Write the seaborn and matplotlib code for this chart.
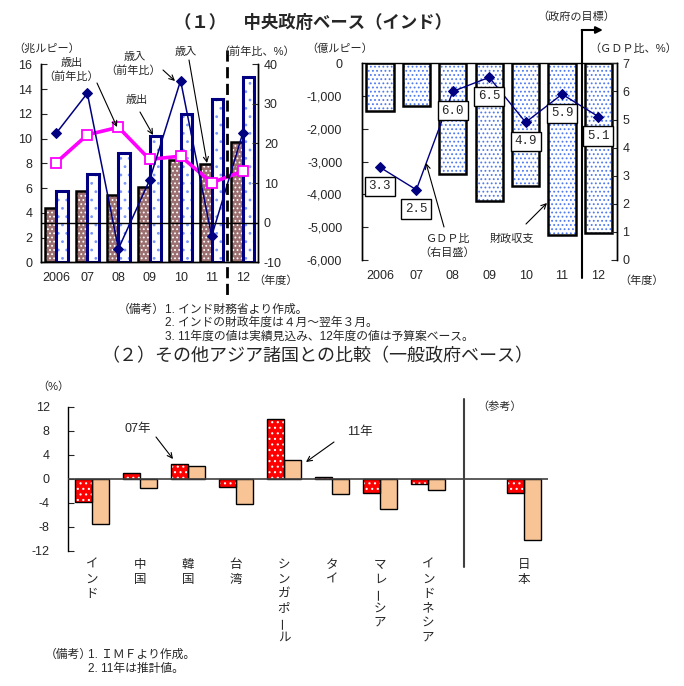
import numpy as np
import pandas as pd
import seaborn as sns
import matplotlib.pyplot as plt
from matplotlib.patches import Rectangle
from matplotlib.ticker import FuncFormatter
from matplotlib.transforms import blended_transform_factory

sns.set_style('ticks')
plt.rcParams['font.family'] = ['Liberation Sans', 'Noto Sans CJK JP', 'DejaVu Sans']
plt.rcParams['axes.unicode_minus'] = False
plt.rcParams['hatch.linewidth'] = 0.8

W, H = 684, 686

# (1) central government, India
years = ['2006', '07', '08', '09', '10', '11', '12']
revenue = [4.35, 5.8, 5.45, 6.05, 8.25, 7.95, 9.75]          # 歳入 (兆ルピー)
expenditure = [5.8, 7.1, 8.8, 10.2, 11.95, 13.2, 14.95]      # 歳出 (兆ルピー)
revenue_yoy = [22.6, 32.7, -6.6, 10.7, 35.9, -3.4, 22.6]     # 歳入 前年比 (%)
expenditure_yoy = [15.2, 22.2, 24.1, 16.0, 16.8, 10.1, 13.0] # 歳出 前年比 (%)
balance = [-1440, -1300, -3380, -4210, -3740, -5250, -5170]  # 財政収支 (億ルピー)
balance_gdp = [3.3, 2.5, 6.0, 6.5, 4.9, 5.9, 5.1]            # GDP比 (%)

# (2) other Asian economies, general government balance (% of GDP)
countries = ['インド', '中国', '韓国', '台湾', 'シンガポール', 'タイ', 'マレーシア', 'インドネシア', '日本']
bal_07 = [-3.9, 1.0, 2.4, -1.3, 10.0, 0.3, -2.4, -0.8, -2.3]
bal_11 = [-7.6, -1.5, 2.1, -4.2, 3.2, -2.5, -5.1, -1.8, -10.2]

fig = plt.figure(figsize=(W / 100, H / 100), dpi=100)


def fxy(x, y):
    # pixel position (from top-left) -> figure fraction
    return x / W, 1 - y / H


def axes_px(left, top, right, bottom):
    return fig.add_axes([left / W, 1 - bottom / H, (right - left) / W, (bottom - top) / H])


def hatch_bars(ax, bars, face, dots, dot_color, edge, lw):
    # hatch colour follows edge colour, so draw the outline as a separate frame
    for p in bars:
        p.set_facecolor(face)
        p.set_edgecolor(dot_color)
        p.set_hatch(dots)
        p.set_linewidth(0)
        ax.add_patch(Rectangle(p.get_xy(), p.get_width(), p.get_height(), fill=False,
                               edgecolor=edge, linewidth=lw, zorder=p.get_zorder() + 0.1))


def arrow(x0, y0, x1, y1):
    fig.add_artist(plt.Annotation('', xy=fxy(x1, y1), xytext=fxy(x0, y0),
                                  xycoords='figure fraction', textcoords='figure fraction',
                                  arrowprops=dict(arrowstyle='->', lw=0.8, color='black',
                                                  shrinkA=0, shrinkB=0, mutation_scale=9)))


def note(x, y, s, size=8, **kw):
    fig.text(*fxy(x, y), s, fontsize=size, va='center', **kw)


x = np.arange(len(years))

# ---------- (1) left: revenue / expenditure ----------
ax1 = axes_px(40.7, 64.3, 258.3, 262.3)
df1 = pd.DataFrame({'year': years * 2,
                    'kind': ['歳入'] * len(years) + ['歳出'] * len(years),
                    'value': revenue + expenditure})
sns.barplot(data=df1, x='year', y='value', hue='kind', hue_order=['歳入', '歳出'],
            palette=['#9c7070', 'white'], saturation=1, width=0.74, legend=False, ax=ax1)
hatch_bars(ax1, ax1.containers[0], '#9c7070', '....', 'white', 'black', 1.8)
hatch_bars(ax1, ax1.containers[1], 'white', '..', '#7b96ff', '#000080', 2.2)
ax1.set_xlim(-0.5, 6.5)
ax1.set_ylim(0, 16)
ax1.set_yticks(range(0, 17, 2))
ax1.set_xlabel('')
ax1.set_ylabel('')
ax1.tick_params(axis='y', direction='in', length=4, labelsize=9, pad=6)
ax1.tick_params(axis='x', length=0, labelsize=9, pad=7)

ax1r = ax1.twinx()
ax1r.axhline(0, color='black', lw=1, zorder=1)
sns.lineplot(x=x, y=expenditure_yoy, ax=ax1r, color='#ff00ff', lw=2.6, marker='s',
             markersize=6.5, markerfacecolor='white', markeredgecolor='#ff00ff', markeredgewidth=1.3)
sns.lineplot(x=x, y=revenue_yoy, ax=ax1r, color='#000080', lw=1.1, marker='D',
             markersize=4.8, markeredgecolor='#000080')
ax1r.set_ylim(-10, 40)
ax1r.set_yticks(range(-10, 41, 10))
ax1r.set_xlim(-0.5, 6.5)
ax1r.tick_params(axis='y', direction='in', length=4, labelsize=9, pad=4)
trans1 = blended_transform_factory(ax1r.transData, fig.transFigure)
ax1r.plot([5.5, 5.5], [fxy(0, 50)[1], fxy(0, 296)[1]], transform=trans1, color='black',
          lw=2, ls=(0, (4, 2)), clip_on=False)
for a in (ax1, ax1r):
    a.spines['top'].set_visible(False)
    for s in a.spines.values():
        s.set_color('black')
        s.set_linewidth(1)

note(47, 48, '（兆ルピー）', ha='center')
note(257, 52, '（前年比、%）', ha='center')
note(276, 281, '（年度）', ha='center')
note(72, 63, '歳出', ha='center')
note(71, 77, '（前年比）', ha='center')
arrow(97, 83, 117, 127)
note(135, 57, '歳入', ha='center')
note(133, 71, '（前年比）', ha='center')
arrow(163, 70, 175, 81)
note(186, 52, '歳入', ha='center')
arrow(189, 60, 207, 163)
note(137, 100, '歳出', ha='center')
arrow(140, 112, 153, 135)

# ---------- (1) right: fiscal balance ----------
ax2 = axes_px(361.7, 63.3, 616.7, 260)
sns.barplot(x=years, y=balance, color='white', saturation=1, width=0.75, ax=ax2)
hatch_bars(ax2, ax2.containers[0], 'white', '....', '#4f7af0', 'black', 1.8)
ax2.set_xlim(-0.5, 6.5)
ax2.set_ylim(-6000, 0)
ax2.set_yticks(range(-6000, 1, 1000))
ax2.yaxis.set_major_formatter(FuncFormatter(lambda v, p: f'{int(v):,}'))
ax2.tick_params(axis='y', direction='in', length=4, labelsize=9, pad=14)
ax2.tick_params(axis='x', length=0, labelsize=9, pad=7)

ax2r = ax2.twinx()
sns.lineplot(x=x, y=balance_gdp, ax=ax2r, color='#000080', lw=1, marker='D',
             markersize=4.8, markeredgecolor='#000080')
ax2r.set_ylim(0, 7)
ax2r.set_xlim(-0.5, 6.5)
ax2r.tick_params(axis='y', direction='in', length=4, labelsize=9, pad=4)
for xi, v in zip(x, balance_gdp):
    ax2r.text(xi, v - 0.68, f'{v:.1f}', ha='center', va='center', fontsize=9,
              family='Liberation Mono', zorder=5,
              bbox=dict(boxstyle='square,pad=0.3', fc='white', ec='black', lw=1))
for a in (ax2, ax2r):
    a.spines['bottom'].set_visible(False)
    for s in a.spines.values():
        s.set_color('black')
        s.set_linewidth(1)
ax2r.spines['top'].set_visible(False)

trans2 = blended_transform_factory(ax2r.transData, fig.transFigure)
ax2r.plot([5.54, 5.54], [fxy(0, 30)[1], fxy(0, 278)[1]], transform=trans2,
          color='black', lw=1.5, clip_on=False)
ax2r.annotate('', xy=(6.12, fxy(0, 30)[1]), xytext=(5.54, fxy(0, 30)[1]),
              xycoords=trans2, textcoords=trans2, annotation_clip=False,
              arrowprops=dict(arrowstyle='-|>', lw=1.5, color='black',
                              shrinkA=0, shrinkB=0, mutation_scale=10))
note(576, 16, '（政府の目標）', ha='center')
note(340, 49, '（億ルピー）', ha='center')
note(633, 49, '（ＧＤＰ比、%）', ha='center')
note(642, 281, '（年度）', ha='center')
note(447, 239, 'ＧＤＰ比', ha='center')
note(447, 253, '（右目盛）', ha='center')
arrow(444, 227, 426, 163)
note(512, 239, '財政収支', ha='center')
arrow(526, 224, 547, 203)

# titles and notes for (1)
fig.text(*fxy(313, 22), '（１）　中央政府ベース（インド）', fontsize=12.5, weight='bold',
         ha='center', va='center')
note(118, 310, '（備考）', size=8.5)
note(165, 310, '1. インド財務省より作成。', size=8.5)
note(165, 323, '2. インドの財政年度は４月～翌年３月。', size=8.5)
note(165, 337, '3. 11年度の値は実績見込み、12年度の値は予算案ベース。', size=8.5)
fig.text(*fxy(317, 357), '（２）その他アジア諸国との比較（一般政府ベース）', fontsize=13,
         ha='center', va='center')

# ---------- (2) comparison with other Asian economies ----------
ax3 = axes_px(67.7, 406.7, 548.3, 550.7)
order = countries[:8] + [' '] + countries[8:]
df3 = pd.DataFrame({'country': countries * 2,
                    'year': ['07年'] * len(countries) + ['11年'] * len(countries),
                    'value': bal_07 + bal_11})
sns.barplot(data=df3, x='country', y='value', hue='year', order=order,
            hue_order=['07年', '11年'], palette=['red', '#f8c495'], saturation=1,
            width=0.7, legend=False, ax=ax3)
hatch_bars(ax3, ax3.containers[0], 'red', '...', 'white', 'black', 1)
for p in ax3.containers[1]:
    p.set_edgecolor('black')
    p.set_linewidth(1)
ax3.axhline(0, color='#404040', lw=1.2, zorder=4)
ax3.set_xlim(-0.5, 9.5)
ax3.set_ylim(-12, 12)
ax3.set_yticks(range(-12, 13, 4))
ax3.set_xticks([])
ax3.set_xlabel('')
ax3.set_ylabel('')
ax3.tick_params(axis='y', direction='in', length=4, labelsize=9, pad=13)
for side in ('top', 'right', 'bottom'):
    ax3.spines[side].set_visible(False)
ax3.spines['left'].set_color('black')
ax3.spines['left'].set_linewidth(1)
ax3.plot([7.75, 7.75], [13.3, -14.7], color='#404040', lw=1.5, clip_on=False)

# vertical (tategaki) category labels
for name in countries:
    pos = order.index(name)
    for k, ch in enumerate(name):
        ax3.annotate(ch, xy=(pos, -12), xytext=(0, -(14.3 + 14.5 * k) * 0.72),
                     textcoords='offset points', ha='center', va='center', fontsize=9,
                     rotation=90 if ch == 'ー' else 0, annotation_clip=False)

note(53, 387, '（%）', ha='center')
note(500, 407, '（参考）', ha='center')
note(138, 429, '07年', size=9, ha='center')
arrow(156, 437, 173, 459)
note(360, 432, '11年', size=9, ha='center')
arrow(334, 442, 306, 462)
note(45, 655, '（備考）', size=8.5)
note(88, 655, '1. ＩＭＦより作成。', size=8.5)
note(88, 669, '2. 11年は推計値。', size=8.5)

fig.savefig('out.png', dpi=100)
